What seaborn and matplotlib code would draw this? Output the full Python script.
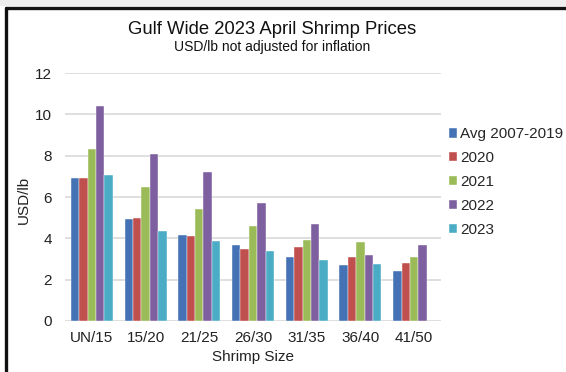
import numpy as np
import pandas as pd
import seaborn as sns
import matplotlib.pyplot as plt
from matplotlib.patches import Rectangle
from matplotlib.lines import Line2D

sizes = ["UN/15", "15/20", "21/25", "26/30", "31/35", "36/40", "41/50"]
series = ["Avg 2007-2019", "2020", "2021", "2022", "2023"]
avg_2007_2019 = [6.90, 4.95, 4.15, 3.70, 3.10, 2.70, 2.40]
y2020 = [6.90, 5.00, 4.10, 3.50, 3.60, 3.10, 2.80]
y2021 = [8.30, 6.50, 5.40, 4.60, 3.90, 3.80, 3.10]
y2022 = [10.40, 8.10, 7.20, 5.70, 4.70, 3.20, 3.70]
y2023 = [7.05, 4.35, 3.85, 3.40, 2.95, 2.75, np.nan]
colors = ["#4472B4", "#C0504D", "#9BBB59", "#7E5FA0", "#4BACC6"]

rows = []
for name, vals in zip(series, [avg_2007_2019, y2020, y2021, y2022, y2023]):
    for s, v in zip(sizes, vals):
        rows.append({"Shrimp Size": s, "Series": name, "USD/lb": v})
df = pd.DataFrame(rows)

sns.set_theme(style="white")
plt.rcParams["font.family"] = ["Liberation Sans", "DejaVu Sans"]

W, H = 566, 372
fig = plt.figure(figsize=(W / 100, H / 100), dpi=100)
fig.patch.set_facecolor("white")

# light strip and dark frame around the chart
fig.patches.append(Rectangle((0, (H - 6) / H), 1, 6 / H, transform=fig.transFigure,
                             facecolor="#EDEDED", edgecolor="none", zorder=0))
fig.add_artist(Line2D([6 / W, 6 / W], [0, (H - 7.5) / H], color="#111111", lw=2.4,
                      transform=fig.transFigure))
fig.add_artist(Line2D([6 / W, 1], [(H - 7.5) / H, (H - 7.5) / H], color="#111111", lw=2.4,
                      transform=fig.transFigure))

ax = fig.add_axes([65 / W, (H - 321) / H, (441 - 65) / W, (321 - 73) / H])
sns.barplot(data=df, x="Shrimp Size", y="USD/lb", hue="Series", order=sizes,
            hue_order=series, palette=colors, width=0.78, gap=0,
            edgecolor="white", linewidth=0.3, saturation=1, ax=ax, legend=True)

ax.set_ylim(0, 12)
ax.set_yticks(range(0, 13, 2))
ax.yaxis.grid(True, color="#D9D9D9", linewidth=1.2)
ax.set_axisbelow(True)
for sp in ax.spines.values():
    sp.set_visible(False)
ax.tick_params(axis="both", length=0, labelsize=11, colors="#222222")
ax.tick_params(axis="y", pad=9.5)
ax.tick_params(axis="x", pad=7)
ax.set_ylabel("USD/lb", fontsize=11, color="#222222")
ax.yaxis.set_label_coords(-0.092, 0.49)
ax.set_xlabel("Shrimp Size", fontsize=11, color="#222222", labelpad=4)

leg = ax.legend(loc="upper left", bbox_to_anchor=(1.005, 0.805), frameon=False,
                fontsize=11, handlelength=0.55, handleheight=0.55, handletextpad=0.2,
                labelspacing=0.64, borderaxespad=0)

fig.text(272 / W, 1 - 30 / H, "Gulf Wide 2023 April Shrimp Prices", ha="center",
         va="center", fontsize=13.3, color="#111111")
fig.text(272 / W, 1 - 47 / H, "USD/lb not adjusted for inflation", ha="center",
         va="center", fontsize=10, color="#111111")

fig.savefig("out.png", dpi=100)
